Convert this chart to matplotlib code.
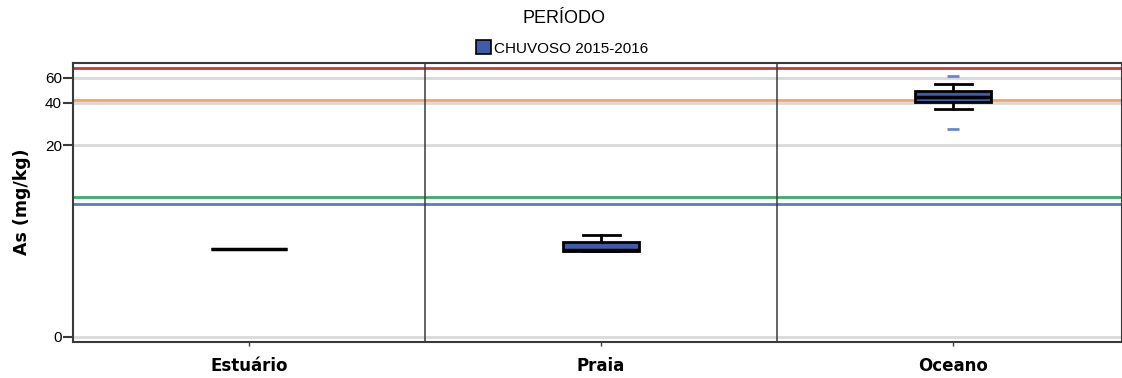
import numpy as np
import matplotlib
matplotlib.use("Agg")
import matplotlib.pyplot as plt
from matplotlib.patches import Patch

# Arsenic in sediments (mg/kg), rainy season 2015-2016
categories = ["Estuário", "Praia", "Oceano"]
q1 = [3.0, 2.92, 40.8]
median = [3.0, 2.95, 44.2]
q3 = [3.0, 3.52, 48.5]
whisker_low = [3.0, 2.92, 36.2]
whisker_high = [3.0, 4.03, 54.3]
outliers = [[], [], [62.1, 26.1]]

# Sediment quality guideline levels (mg/kg)
guide_values = [70.0, 41.6, 8.2, 7.24]
guide_colors = ["#C43A3F", "#F8A35E", "#3DAA6B", "#5C78C6"]

y_ticks = [0, 20, 40, 60]

SANS = ["Liberation Sans", "DejaVu Sans"]
plt.rcParams["font.family"] = ["DejaVu Sans"]

fig = plt.figure(figsize=(11.22, 3.78), dpi=100)
ax = fig.add_axes([73 / 1122, 36.3 / 378, (1122 - 73) / 1122, (341.7 - 62.7) / 378])

ax.set_yscale("function", functions=(lambda v: np.log10(np.maximum(v + 1, 1e-9)),
                                     lambda t: 10 ** t - 1))
ax.set_ylim(-0.076, 76.6)
ax.set_xlim(-0.5, 2.48)

for t in y_ticks:
    ax.axhline(t, color="#D9D9D9", lw=2, zorder=1)

for v, c in zip(guide_values, guide_colors):
    ax.axhline(v, color=c, lw=2, zorder=2)

for xv in [0.5, 1.5]:
    ax.axvline(xv, color="#3A3A3A", lw=1.1, zorder=2)

stats = []
for i in range(len(categories)):
    stats.append(dict(q1=q1[i], med=median[i], q3=q3[i],
                      whislo=whisker_low[i], whishi=whisker_high[i],
                      fliers=outliers[i]))

ax.bxp(stats, positions=range(len(categories)), widths=0.215, capwidths=0.105,
       patch_artist=True, showfliers=True,
       boxprops=dict(facecolor="#3F5BA9", edgecolor="black", linewidth=2),
       medianprops=dict(color="black", linewidth=2.5),
       whiskerprops=dict(color="black", linewidth=2),
       capprops=dict(color="black", linewidth=2),
       flierprops=dict(marker="_", markeredgecolor="#6A86CF", markersize=8,
                       markeredgewidth=2),
       zorder=4)

ax.set_xticks(range(len(categories)))
ax.set_xticklabels(categories, fontweight="bold", fontsize=12)
ax.tick_params(axis="x", length=3, width=1, color="#3A3A3A", pad=8)
ax.set_yticks(y_ticks)
ax.set_yticklabels([str(t) for t in y_ticks], fontsize=11, family=SANS)
ax.tick_params(axis="y", length=7, width=1.5, color="#3A3A3A", pad=1)
ax.yaxis.set_minor_locator(matplotlib.ticker.NullLocator())

for side in ["left", "top", "bottom", "right"]:
    ax.spines[side].set_color("#3A3A3A")
    ax.spines[side].set_linewidth(1.5)

ax.set_ylabel("As (mg/kg)", fontweight="bold", fontsize=12.5, labelpad=10)

fig.text(0.503, 0.951, "PERÍODO", ha="center", va="center", fontsize=13, family=SANS)
fig.legend(handles=[Patch(facecolor="#3F5BA9", edgecolor="black", linewidth=1.2)],
           labels=["CHUVOSO 2015-2016"], loc="center", bbox_to_anchor=(0.501, 0.873),
           frameon=False, prop=dict(family=SANS, size=11), handlelength=1.0,
           handleheight=1.0, handletextpad=0.2, borderpad=0)

fig.savefig("out.png", dpi=100)
